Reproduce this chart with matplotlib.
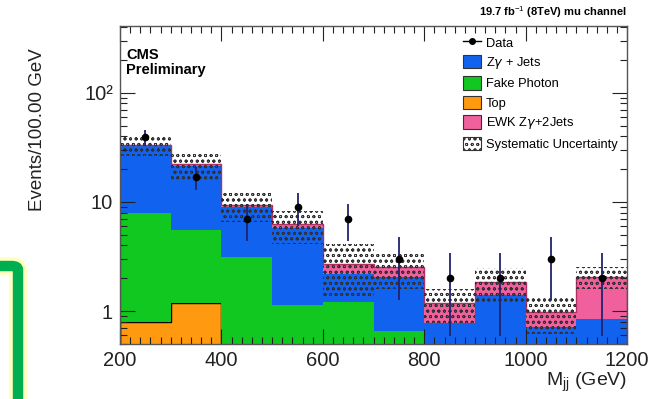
import matplotlib
matplotlib.use("Agg")
import matplotlib.pyplot as plt
import numpy as np
from matplotlib.lines import Line2D
from matplotlib.patches import FancyBboxPatch, Patch
from matplotlib.ticker import FixedLocator, MultipleLocator, NullFormatter

plt.rcParams["font.family"] = ["Liberation Sans", "DejaVu Sans"]
plt.rcParams["mathtext.fontset"] = "custom"
plt.rcParams["mathtext.rm"] = "Liberation Sans"
plt.rcParams["mathtext.bf"] = "Liberation Sans:bold"
plt.rcParams["hatch.linewidth"] = 0.6

# M_jj binning (GeV)
edges = [200, 300, 400, 500, 600, 700, 800, 900, 1000, 1100, 1200]

# expected yields per bin
top = [0.80, 1.18, 0, 0, 0, 0, 0, 0, 0, 0]
fake_photon = [7.05, 4.30, 3.10, 1.13, 1.20, 0.66, 0, 0, 0, 0]
zg_jets = [25.0, 16.0, 5.80, 4.60, 1.00, 1.38, 0.78, 1.40, 0.71, 0.85]
ewk_zg2j = [0.50, 0.60, 0.40, 0.50, 0.52, 0.50, 0.40, 0.44, 0.27, 1.20]
syst_unc = [7.0, 6.3, 2.7, 2.1, 1.4, 0.96, 0.41, 0.66, 0.36, 0.46]

# observed events
data = [39, 17, 7, 9, 7, 3, 2, 2, 3, 2]

stack = [
    ("Top", top, "#ff9a10", "black"),
    ("Fake Photon", fake_photon, "#10c820", None),
    (r"Z$\gamma$ + Jets", zg_jets, "#1262f0", None),
    (r"EWK Z$\gamma$+2Jets", ewk_zg2j, "#f0609c", "#b03060"),
]

fig = plt.figure(figsize=(6.52, 3.99), dpi=100)
ax = fig.add_axes([0.184, 0.138, 0.778, 0.797])
ax.set_yscale("log")

base = np.full(len(data), 1e-3)
for name, vals, col, ec in stack:
    vals = np.asarray(vals, dtype=float)
    upper = base + vals
    ax.stairs(upper, edges, baseline=base, fill=True, color=col, lw=0)
    if ec is not None:
        ax.stairs(np.where(vals > 0, upper, np.nan), edges, color=ec, lw=1.0)
    base = upper

total = base
unc = np.asarray(syst_unc)
ax.stairs(total + unc, edges, baseline=total - unc, fill=True,
          facecolor="none", edgecolor="#303030", hatch="ooo", lw=0)

centers = 0.5 * (np.array(edges[:-1]) + np.array(edges[1:]))
d = np.asarray(data, dtype=float)
ax.errorbar(centers, d, yerr=np.sqrt(d), fmt="o", color="black",
            ecolor="#22226e", elinewidth=1.3, ms=4.5, capsize=0, zorder=5)

ax.set_xlim(200, 1200)
ax.set_ylim(0.5, 410)
ax.xaxis.set_major_locator(MultipleLocator(200))
ax.xaxis.set_minor_locator(MultipleLocator(20))
ax.yaxis.set_major_locator(FixedLocator([1, 10, 100]))
ax.set_yticklabels(["1", "10", "10²"])
ax.yaxis.set_minor_formatter(NullFormatter())
ax.tick_params(which="both", direction="in", top=True, right=True,
               labelsize=14.5, colors="#222222")
ax.tick_params(which="major", length=11, width=0.8)
ax.tick_params(which="minor", length=5, width=0.8)
ax.tick_params(axis="x", pad=5)
ax.tick_params(axis="y", pad=5)
for s in ax.spines.values():
    s.set_color("#555555")
    s.set_linewidth(1.0)

fig.text(0.058, 0.675, "Events/100.00 GeV", rotation=90, ha="center",
         va="center", fontsize=13.5, color="#222222")
ax.text(1.0, -0.085, r"M$_{\mathrm{jj}}$ (GeV)", transform=ax.transAxes,
        ha="right", va="top", fontsize=14, color="#222222")
ax.text(1.0, 1.02, r"19.7 fb$^{-1}$ (8TeV) mu channel", transform=ax.transAxes,
        ha="right", va="bottom", fontsize=8, fontweight="bold")
ax.text(0.012, 0.93, "CMS\nPreliminary", transform=ax.transAxes, ha="left",
        va="top", fontsize=10.5, fontweight="bold", linespacing=1.1)

handles = [Line2D([], [], color="black", marker="o", ms=4, lw=1.0)]
labels = ["Data"]
for name, vals, col, ec in [stack[2], stack[1], stack[0], stack[3]]:
    handles.append(Patch(facecolor=col, edgecolor="#333333", lw=0.8))
    labels.append(name)
handles.append(Patch(facecolor="white", edgecolor="#333333", hatch="ooo", lw=0.8))
labels.append("Systematic Uncertainty")
ax.legend(handles, labels, loc="upper right", bbox_to_anchor=(1.0, 1.0),
          frameon=False, fontsize=9.3, handlelength=1.45, handleheight=1.2,
          handletextpad=0.35, labelspacing=0.42, borderaxespad=0.35)

# slide frame partly visible at lower left
for lw, col, a in [(13, "#ffff80", 0.5), (7.5, "#00b050", 1.0)]:
    box = FancyBboxPatch((-60 / 652, -0.5), 78 / 652, 0.5 + (399 - 266) / 399,
                         boxstyle="round,pad=0,rounding_size=0.01",
                         transform=fig.transFigure, facecolor="none",
                         edgecolor=col, lw=lw, alpha=a, clip_on=False)
    fig.patches.append(box)

fig.savefig("out.png", dpi=100)
